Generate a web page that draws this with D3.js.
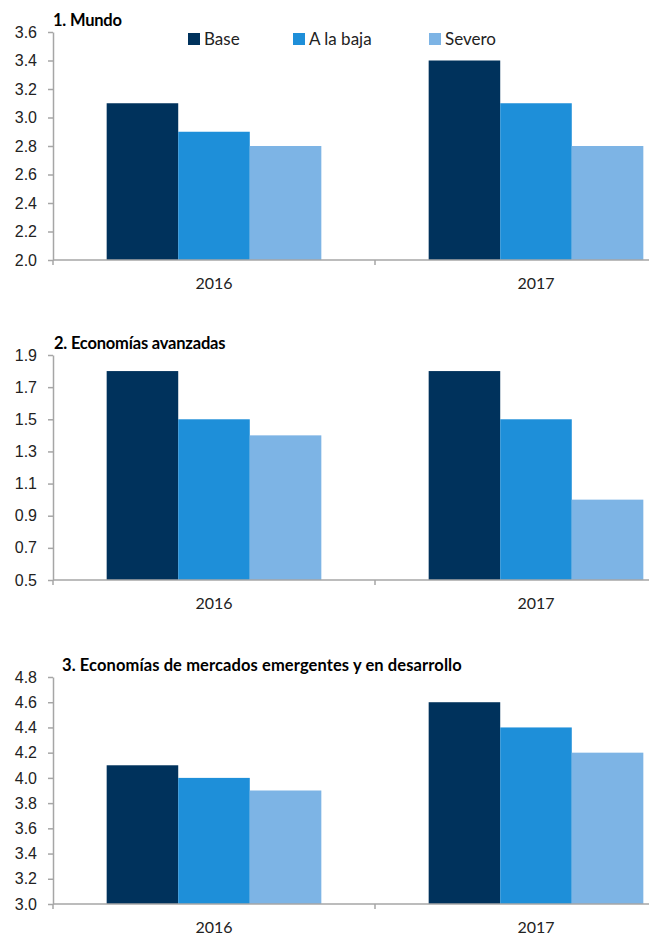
<!DOCTYPE html>
<html>
<head>
<meta charset="utf-8">
<script src="https://cdn.jsdelivr.net/npm/d3@7"></script>
<style>
  body { margin: 0; background: #fff; }
  svg { display: block; font-family: Lato, "Open Sans", sans-serif; }
  .axis path, .axis line { stroke: #a6a6a6; stroke-width: 1.5; }
  .axis text { fill: #222; }
</style>
</head>
<body>
<div id="chart"></div>
<script>
// data
const years = ['2016', '2017'];
const series = ['Base', 'A la baja', 'Severo'];
const colors = ['#00325c', '#1e8fd9', '#7db4e5'];

const mundo = [[3.1, 2.9, 2.8], [3.4, 3.1, 2.8]];
const avanzadas = [[1.8, 1.5, 1.4], [1.8, 1.5, 1.0]];
const emergentes = [[4.1, 4.0, 3.9], [4.6, 4.4, 4.2]];

const mundoTicks = [2.0, 2.2, 2.4, 2.6, 2.8, 3.0, 3.2, 3.4, 3.6];
const avanzadasTicks = [0.5, 0.7, 0.9, 1.1, 1.3, 1.5, 1.7, 1.9];
const emergentesTicks = [3.0, 3.2, 3.4, 3.6, 3.8, 4.0, 4.2, 4.4, 4.6, 4.8];

const width = 649, height = 936;

const svg = d3.select('#chart').append('svg')
  .attr('width', width)
  .attr('height', height);

// the plot runs past the right edge, as in the original
const x0 = d3.scaleBand().domain(years).range([53, 697]);
const x1 = d3.scaleBand().domain(series).range([0, x0.bandwidth()]).paddingOuter(0.75);

function panel(opts) {
  const y = d3.scaleLinear()
    .domain(d3.extent(opts.ticks))
    .range([opts.bottom, opts.top]);

  const g = svg.append('g');

  // bars
  const groups = g.selectAll('.year')
    .data(opts.values)
    .join('g')
      .attr('class', 'year')
      .attr('transform', (d, i) => `translate(${x0(years[i])},0)`);

  groups.selectAll('rect')
    .data(d => d)
    .join('rect')
      .attr('x', (d, i) => x1(series[i]))
      .attr('y', d => y(d))
      .attr('width', x1.bandwidth())
      .attr('height', d => y.range()[0] - y(d))
      .attr('fill', (d, i) => colors[i]);

  // y axis
  const yAxis = g.append('g')
    .attr('class', 'axis')
    .attr('transform', `translate(${x0.range()[0]},0)`)
    .call(d3.axisLeft(y)
      .tickValues(opts.ticks)
      .tickFormat(d3.format('.1f'))
      .tickSize(5)
      .tickSizeOuter(0));
  yAxis.selectAll('text')
    .attr('x', -16)
    .style('font-size', '16px');

  // x axis: ticks on the category edges, labels centred
  const xAxis = g.append('g')
    .attr('class', 'axis')
    .attr('transform', `translate(0,${opts.bottom})`);
  xAxis.append('line')
    .attr('x1', x0.range()[0])
    .attr('x2', x0.range()[1]);
  xAxis.selectAll('.edge')
    .data(years.map(d => x0(d)).concat([x0.range()[1]]))
    .join('line')
      .attr('class', 'edge')
      .attr('x1', d => d)
      .attr('x2', d => d)
      .attr('y1', 0)
      .attr('y2', 5);
  xAxis.selectAll('text')
    .data(years)
    .join('text')
      .attr('x', d => x0(d) + x0.bandwidth() / 2)
      .attr('y', 29)
      .attr('text-anchor', 'middle')
      .style('font-size', '16px')
      .text(d => d);

  // title
  g.append('text')
    .attr('x', opts.titleX)
    .attr('y', opts.top - 6)
    .style('font-size', '16.5px')
    .style('font-weight', 'bold')
    .style('letter-spacing', opts.spacing)
    .text(opts.title);

  return g;
}

panel({ title: '1. Mundo', values: mundo, ticks: mundoTicks, top: 32, bottom: 260, titleX: 53, spacing: '-0.2px' });
panel({ title: '2. Economías avanzadas', values: avanzadas, ticks: avanzadasTicks, top: 355, bottom: 580, titleX: 54, spacing: '-0.2px' });
panel({ title: '3. Economías de mercados emergentes y en desarrollo', values: emergentes, ticks: emergentesTicks, top: 677, bottom: 904, titleX: 62, spacing: '0.1px' });

// legend
const legendX = [188, 293, 429];
const legend = svg.append('g').selectAll('g')
  .data(series)
  .join('g')
    .attr('transform', (d, i) => `translate(${legendX[i]},33)`);
legend.append('rect')
  .attr('width', 12)
  .attr('height', 12)
  .attr('fill', (d, i) => colors[i]);
legend.append('text')
  .attr('x', 16)
  .attr('y', 11.5)
  .style('font-size', '17px')
  .style('fill', '#222')
  .text(d => d);
</script>
</body>
</html>
